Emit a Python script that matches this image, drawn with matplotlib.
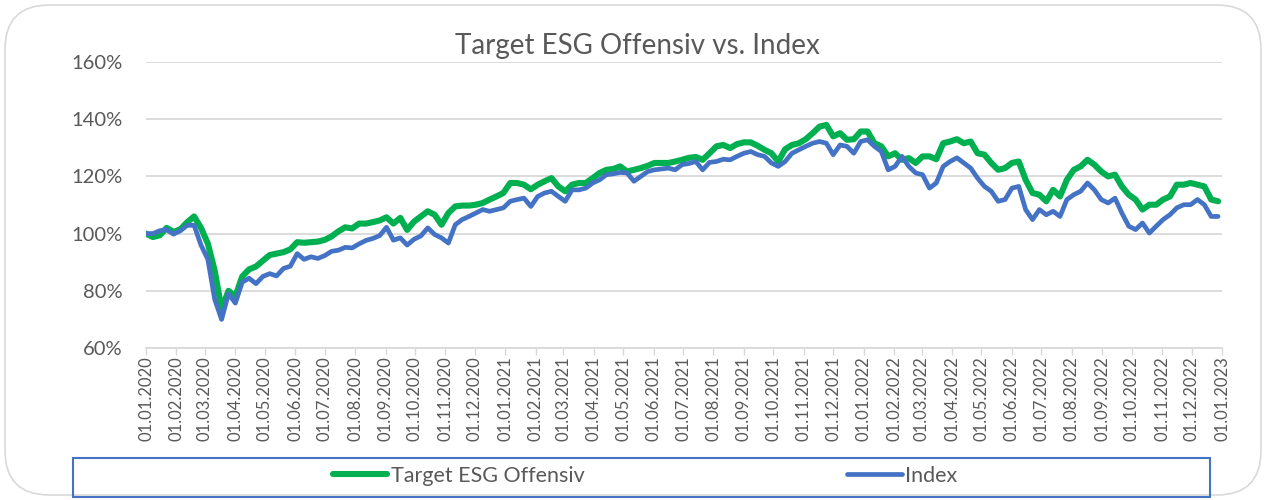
import matplotlib
matplotlib.use("Agg")
import matplotlib.pyplot as plt
import matplotlib.dates as mdates
from matplotlib.patches import FancyBboxPatch, Rectangle
from matplotlib.ticker import FuncFormatter, MultipleLocator
import pandas as pd

# weekly values (in %)
dates = pd.date_range("2020-01-01", periods=157, freq="7D")

target_esg = [
    100.0, 98.8, 99.4, 102.0, 100.6, 101.5, 104.0, 106.0, 102.0, 96.5,
    87.0, 73.5, 80.0, 78.0, 85.0, 87.5, 88.5, 90.5, 92.5, 93.0,
    93.5, 94.5, 97.0, 96.8, 97.0, 97.2, 97.8, 99.0, 100.8, 102.2,
    101.8, 103.5, 103.5, 104.0, 104.6, 105.7, 103.5, 105.5, 101.3, 104.2,
    106.0, 107.8, 106.6, 103.1, 107.2, 109.5, 109.8, 109.8, 110.1, 110.7,
    111.9, 113.0, 114.2, 117.7, 117.7, 117.1, 115.5, 117.1, 118.3, 119.4,
    116.5, 114.8, 117.1, 117.7, 117.7, 119.4, 121.2, 122.3, 122.6, 123.5,
    121.7, 122.3, 122.9, 123.7, 124.7, 124.7, 124.7, 125.2, 125.8, 126.5,
    126.8, 125.8, 128.1, 130.5, 131.0, 129.9, 131.3, 131.9, 131.9, 130.7,
    129.3, 128.1, 125.2, 129.5, 131.0, 131.6, 133.0, 135.1, 137.4, 138.0,
    134.0, 135.1, 132.8, 133.0, 135.7, 135.7, 131.6, 130.5, 127.0, 128.1,
    125.8, 126.4, 124.7, 127.0, 127.0, 126.0, 131.6, 132.2, 133.0, 131.6,
    132.2, 128.1, 127.6, 124.7, 122.3, 122.9, 124.7, 125.2, 118.8, 114.2,
    113.6, 111.3, 115.3, 113.0, 118.8, 122.3, 123.5, 125.8, 124.1, 121.7,
    120.0, 120.6, 116.5, 113.6, 111.9, 108.4, 110.1, 110.1, 111.9, 113.0,
    117.1, 117.1, 117.7, 117.1, 116.5, 111.9, 111.3,
]

index_vals = [
    100.0, 100.0, 101.0, 101.4, 99.8, 101.0, 102.9, 102.9, 96.0, 91.0,
    77.0, 70.0, 79.0, 75.7, 83.0, 84.4, 82.5, 85.0, 86.0, 85.2,
    87.8, 88.6, 93.0, 91.0, 91.9, 91.3, 92.3, 93.8, 94.2, 95.2,
    95.0, 96.4, 97.6, 98.3, 99.3, 102.2, 97.7, 98.5, 96.0, 98.0,
    99.2, 102.0, 99.7, 98.5, 96.7, 103.1, 104.9, 106.0, 107.2, 108.4,
    107.8, 108.4, 109.0, 111.3, 111.9, 112.4, 109.5, 113.0, 114.2, 114.8,
    113.0, 111.3, 115.3, 115.3, 115.9, 117.7, 118.8, 120.6, 120.9, 121.4,
    121.2, 118.3, 120.0, 121.7, 122.3, 122.6, 122.9, 122.3, 124.1, 124.5,
    125.2, 122.3, 124.9, 125.2, 126.0, 125.8, 127.0, 128.1, 128.7, 127.6,
    127.0, 124.7, 123.5, 125.2, 128.1, 129.3, 130.5, 131.6, 132.2, 131.6,
    127.6, 131.0, 130.5, 128.1, 132.2, 132.8, 130.5, 128.7, 122.3, 123.5,
    127.0, 123.5, 121.2, 120.6, 115.9, 117.7, 123.5, 125.2, 126.5, 124.7,
    122.9, 119.4, 116.5, 114.8, 111.3, 111.9, 115.9, 116.5, 108.4, 104.9,
    108.4, 106.6, 107.8, 106.0, 111.9, 113.6, 114.8, 117.7, 115.3, 111.9,
    110.7, 112.4, 107.2, 102.6, 101.4, 103.7, 100.2, 102.6, 104.9, 106.6,
    109.0, 110.1, 110.1, 111.9, 110.1, 106.0, 106.0,
]

title = "Target ESG Offensiv vs. Index"
series_names = ["Target ESG Offensiv", "Index"]

plt.rcParams['font.family'] = ['Lato', 'DejaVu Sans']
grey = '#595959'
W, H = 1269, 500

fig = plt.figure(figsize=(W / 100, H / 100), dpi=100)

# rounded chart border
fig.patches.append(FancyBboxPatch((5 / W, 5 / H), 1256 / W, 490 / H,
                                  boxstyle="round,pad=0,rounding_size=0.035",
                                  transform=fig.transFigure, fill=False,
                                  edgecolor='#d9d9d9', linewidth=1.2,
                                  mutation_aspect=W / H))

ax = fig.add_axes([146 / W, 1 - 348 / H, (1222 - 146) / W, (348 - 62) / H])

ax.plot(dates, target_esg, color='#00B050', linewidth=4.4,
        solid_capstyle='round', solid_joinstyle='round', label=series_names[0])
ax.plot(dates, index_vals, color='#4472C4', linewidth=3.4,
        solid_capstyle='round', solid_joinstyle='round', label=series_names[1])

ax.set_ylim(60, 160)
ax.set_xlim(pd.Timestamp("2020-01-01"), pd.Timestamp("2023-01-01"))
ax.yaxis.set_major_locator(MultipleLocator(20))
ax.yaxis.set_major_formatter(FuncFormatter(lambda v, p: f"{v:.0f}%"))
ax.xaxis.set_major_locator(mdates.MonthLocator())
ax.xaxis.set_major_formatter(mdates.DateFormatter("%d.%m.%Y"))

ax.grid(axis='y', color='#d9d9d9', linewidth=1.3)
ax.set_axisbelow(True)
for s in ['top', 'right', 'left']:
    ax.spines[s].set_visible(False)
ax.spines['bottom'].set_color('#d9d9d9')
ax.spines['bottom'].set_linewidth(1.3)

ax.tick_params(axis='y', length=0, pad=17, labelsize=14.5, labelcolor=grey)
ax.tick_params(axis='x', length=5, width=1, color='#d9d9d9', pad=1,
               labelsize=12, labelcolor=grey, labelrotation=90)

fig.text(637 / W, 1 - 46 / H, title, ha='center', va='center',
         fontsize=20, color=grey)

# legend box
fig.patches.append(Rectangle((73 / W, 1 - 497 / H), (1210 - 73) / W, 39 / H,
                             transform=fig.transFigure, fill=False,
                             edgecolor='#4472C4', linewidth=1.5))
fig.legend(loc='center', bbox_to_anchor=(645 / W, 1 - 476 / H), ncol=2,
           frameon=False, fontsize=15.5, labelcolor=grey, handlelength=2.55,
           handletextpad=0.15, columnspacing=12.2)

fig.savefig("out.png", dpi=100)
